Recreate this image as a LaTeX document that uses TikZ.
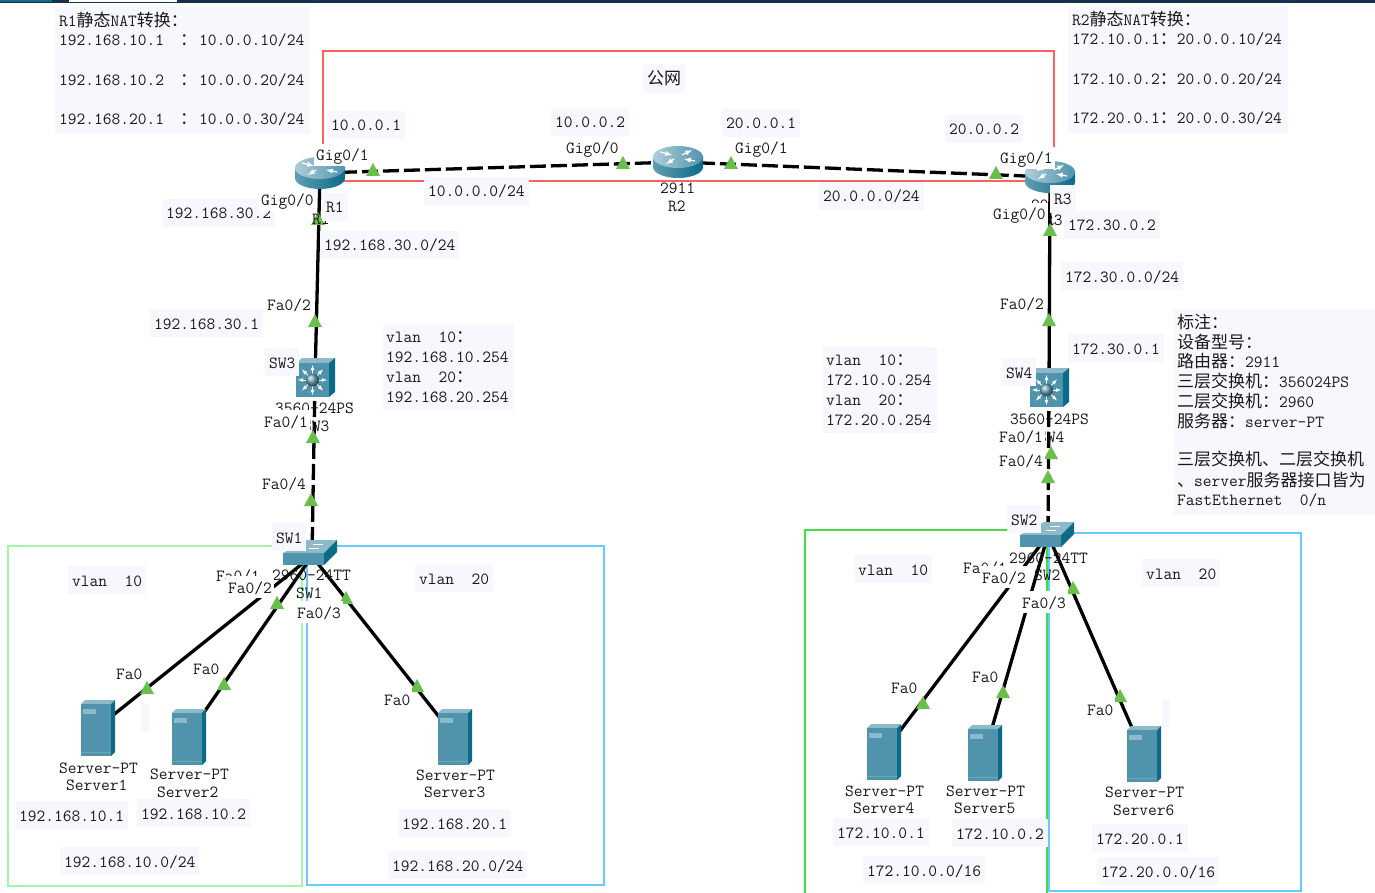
\documentclass[tikz,border=0pt]{standalone}
\usepackage{fontspec}
\newfontfamily\cjk{Noto Sans CJK SC}
\definecolor{lblbg}{HTML}{F7F8FE}
\definecolor{tri}{HTML}{6ABF4B}
\definecolor{cfront}{HTML}{4F93AC}
\definecolor{ctop}{HTML}{8DB9C9}
\definecolor{cside}{HTML}{0B6A85}
\definecolor{cred}{HTML}{FF6060}
\definecolor{cgl}{HTML}{A0F8A8}
\definecolor{cgr}{HTML}{44DD44}
\definecolor{cbl}{HTML}{66CCFF}
\definecolor{cbar}{HTML}{16304F}
\newcounter{nn}
\tikzset{
  txt/.style={font=\ttfamily\fontsize{17}{19}\selectfont,text=black!90,anchor=west,inner sep=0pt},
  lbl/.style={txt,fill=lblbg,inner xsep=4pt,inner ysep=6pt,xshift=-4pt,text depth=2pt,text height=14pt},
  port/.style={txt,fill=white,inner xsep=2pt,inner ysep=3pt,xshift=-2pt,text depth=2pt,text height=14pt},
  plain/.style={txt},
  link/.style={line width=3.3pt,black},
  dlink/.style={link,dash pattern=on 16pt off 5pt},
  routericon/.pic={
    \shade[left color=cfront!90,middle color=white!85!cfront,right color=cside] (0,5) ellipse [x radius=25,y radius=11];
    \shade[left color=cfront!90,middle color=white!85!cfront,right color=cside] (-25,-5) rectangle (25,5);
    \shade[left color=ctop!70!white,right color=cfront] (0,-5) ellipse [x radius=25,y radius=11];
    \draw[-latex,white,line width=1.3pt] (-18,-10)--(-6,-7);
    \draw[-latex,white,line width=1.3pt] (17,-1)--(6,-3);
    \draw[-latex,white,line width=1.3pt] (4,-7)--(14,-12);
    \draw[-latex,white,line width=1.3pt] (-4,-3)--(-12,2);
  },
  l3icon/.pic={
    \fill[ctop] (0,5)--(6,0)--(39,0)--(33,5)--cycle;
    \fill[cside] (33,5)--(39,0)--(39,34)--(33,39)--cycle;
    \fill[cfront] (0,5) rectangle (33,39);
    \draw[-latex,white,line width=.8pt] (16.5,16)--(16.5,7);
    \draw[-latex,white,line width=.8pt] (16.5,28)--(16.5,37);
    \draw[-latex,white,line width=.8pt] (10,22)--(2,22);
    \draw[-latex,white,line width=.8pt] (23,22)--(31,22);
    \draw[-latex,white,line width=.8pt] (12,17.5)--(6,11.5);
    \draw[-latex,white,line width=.8pt] (21,17.5)--(27,11.5);
    \draw[-latex,white,line width=.8pt] (12,26.5)--(6,32.5);
    \draw[-latex,white,line width=.8pt] (21,26.5)--(27,32.5);
    \shade[ball color=cfront!80] (16.5,22) circle (6.5);
  },
  l2icon/.pic={
    \fill[ctop] (0,13)--(24,0)--(54,0)--(41,13)--cycle;
    \fill[cside] (41,13)--(54,0)--(54,12)--(41,25)--cycle;
    \fill[cfront] (0,13) rectangle (41,25);
    \draw[white,line width=.7pt] (30,4)--(40,4) (26,8)--(36,8);
  },
  servericon/.pic={
    \fill[ctop] (0,4)--(4,0)--(34,0)--(30,4)--cycle;
    \fill[cside] (30,4)--(34,0)--(34,52)--(30,56)--cycle;
    \fill[cfront] (0,4) rectangle (30,56);
    \fill[ctop] (2,9) rectangle (15,14);
    \draw[cside!60,line width=.5pt] (0,52)--(30,52);
  },
}
\newcommand{\lb}[3]{\stepcounter{nn}\node[lbl] (t\thenn) at (#1,#2) {#3};}
\newcommand{\pt}[3]{\stepcounter{nn}\node[port] (t\thenn) at (#1,#2) {#3};}
\newcommand{\tx}[3]{\stepcounter{nn}\node[plain] (t\thenn) at (#1,#2) {#3};}
\newcommand{\tr}[2]{\fill[tri] (#1-7,#2+6)--(#1,#2-7)--(#1+7,#2+6)--cycle;}
\begin{document}
\begin{tikzpicture}[x=1pt,y=-1pt]
\useasboundingbox (0,0) rectangle (1375,893);
\fill[white] (0,0) rectangle (1375,893);
% top strip
\fill[cbar] (0,0) rectangle (1375,3);
\fill[cside] (0,0) rectangle (52,2);
\fill[white] (69,0) rectangle (177,2);
% coordinates
\coordinate (r1) at (320,173);
\coordinate (r2) at (678,162);
\coordinate (r3) at (1050,177);
\coordinate (sw3) at (315,380);
\coordinate (sw4) at (1049,390);
\coordinate (sw1) at (312,556);
\coordinate (sw2) at (1048,535);
\coordinate (s1) at (97,728);
\coordinate (s2) at (187,737);
\coordinate (s3) at (455,737);
\coordinate (s4) at (884,752);
\coordinate (s5) at (985,752);
\coordinate (s6) at (1143,753);
% areas
\draw[cred,line width=1.3pt] (323,145)--(323,51)--(1054,51)--(1054,181)--(323,181);
\draw[cgl,line width=1.3pt] (8,546) rectangle (302,886);
\draw[cbl,line width=1.3pt] (307,546) rectangle (604,885);
\draw[cgr,line width=1.3pt] (805,893)--(805,530)--(1047,530)--(1047,893);
\draw[cbl,line width=1.3pt] (1049,533) rectangle (1301,891);
% links
\draw[dlink] (r1)--(r2);
\draw[dlink] (r2)--(r3);
\draw[link] (r1)--(sw3);
\draw[dlink] (sw3)--(sw1);
\draw[link] (r3)--(sw4);
\draw[dlink] (sw4)--(sw2);
\draw[link] (sw1)--(s1);
\draw[link] (sw1)--(s2);
\draw[link] (sw1)--(s3);
\draw[link] (sw2)--(s4);
\draw[link] (sw2)--(s5);
\draw[link] (sw2)--(s6);
% link lights
\tr{373}{170}\tr{623}{163}\tr{731}{163}\tr{996}{173}
\tr{318}{219}\tr{315}{321}\tr{313}{437}\tr{311}{500}
\tr{147}{688}\tr{224}{684}\tr{277}{603}\tr{346}{598}\tr{417}{686}
\tr{1050}{230}\tr{1049}{320}\tr{1051}{453}\tr{1048}{477}
\tr{923}{703}\tr{1003}{692}\tr{1120}{696}\tr{1073}{588}
% icons
\pic at (r1) {routericon};
\pic at (r2) {routericon};
\pic at (r3) {routericon};
\pic at (296,358) {l3icon};
\pic at (1030,368) {l3icon};
\pic at (283,540) {l2icon};
\pic at (1020,522) {l2icon};
\pic at (81,700) {servericon};
\pic at (172,709) {servericon};
\pic at (438,709) {servericon};
\pic at (867,724) {servericon};
\pic at (968,725) {servericon};
\pic at (1127,726) {servericon};
% info boxes
\fill[lblbg] (55,7) rectangle (310,134);
\tx{59}{20}{R1{\cjk 静态}NAT{\cjk 转换：}}
\tx{59}{40}{192.168.10.1}\tx{180}{40}{{\cjk ：}}\tx{199}{40}{10.0.0.10/24}
\tx{59}{80}{192.168.10.2}\tx{180}{80}{{\cjk ：}}\tx{199}{80}{10.0.0.20/24}
\tx{59}{119}{192.168.20.1}\tx{180}{119}{{\cjk ：}}\tx{199}{119}{10.0.0.30/24}
\fill[lblbg] (1068,7) rectangle (1288,133);
\tx{1072}{19}{R2{\cjk 静态}NAT{\cjk 转换：}}
\tx{1072}{39}{172.10.0.1{\cjk ：}20.0.0.10/24}
\tx{1072}{79}{172.10.0.2{\cjk ：}20.0.0.20/24}
\tx{1072}{118}{172.20.0.1{\cjk ：}20.0.0.30/24}
\fill[lblbg] (383,324) rectangle (514,410);
\tx{386}{337}{vlan\ \ 10{\cjk ：}}\tx{386}{357}{192.168.10.254}\tx{386}{377}{vlan\ \ 20{\cjk ：}}\tx{386}{397}{192.168.20.254}
\fill[lblbg] (823,347) rectangle (937,433);
\tx{826}{360}{vlan\ \ 10{\cjk ：}}\tx{826}{380}{172.10.0.254}\tx{826}{400}{vlan\ \ 20{\cjk ：}}\tx{826}{420}{172.20.0.254}
\fill[lblbg] (1174,309) rectangle (1375,515);
\tx{1177}{322}{{\cjk 标注：}}
\tx{1177}{342}{{\cjk 设备型号：}}
\tx{1177}{361}{{\cjk 路由器：}2911}
\tx{1177}{381}{{\cjk 三层交换机：}356024PS}
\tx{1177}{401}{{\cjk 二层交换机：}2960}
\tx{1177}{421}{{\cjk 服务器：}server-PT}
\tx{1177}{459}{{\cjk 三层交换机、二层交换机}}
\tx{1177}{480}{{\cjk 、}server{\cjk 服务器接口皆为}}
\tx{1177}{500}{FastEthernet\ \ 0/n}
% empty label boxes
\fill[lblbg] (141,703) rectangle (150,731);
\fill[lblbg] (1162,699) rectangle (1170,727);
% network labels
\lb{331}{125}{10.0.0.1}
\lb{555}{122}{10.0.0.2}
\lb{726}{123}{20.0.0.1}
\lb{949}{129}{20.0.0.2}
\lb{647}{79}{{\cjk 公网}}
\lb{428}{191}{10.0.0.0/24}
\lb{823}{196}{20.0.0.0/24}
\lb{324}{245}{192.168.30.0/24}
\lb{166}{213}{192.168.30.2}
\lb{154}{323}{192.168.30.1}
\lb{1068}{225}{172.30.0.2}
\lb{1065}{276}{172.30.0.0/24}
\lb{1072}{348}{172.30.0.1}
\lb{72}{580}{vlan\ \ 10}
\lb{419}{578}{vlan\ \ 20}
\lb{858}{569}{vlan\ \ 10}
\lb{1146}{573}{vlan\ \ 20}
\lb{19}{815}{192.168.10.1}
\lb{141}{813}{192.168.10.2}
\lb{402}{823}{192.168.20.1}
\lb{64}{861}{192.168.10.0/24}
\lb{392}{865}{192.168.20.0/24}
\lb{837}{832}{172.10.0.1}
\lb{956}{833}{172.10.0.2}
\lb{1096}{838}{172.20.0.1}
\lb{867}{870}{172.10.0.0/16}
\lb{1101}{871}{172.20.0.0/16}
% device names
\tx{660}{188}{2911}\tx{668}{206}{R2}
\tx{312}{219}{R1}
\tx{1031}{205}{2911}
\tx{1045}{220}{R3}
\tx{275}{408}{3560-24PS}
\tx{303}{426}{SW3}
\tx{1010}{419}{3560-24PS}
\tx{1038}{437}{SW4}
\tx{272}{575}{2960-24TT}
\tx{296}{593}{SW1}
\tx{1009}{558}{2960-24TT}
\tx{1034}{575}{SW2}
\lb{326}{207}{R1}
\lb{1054}{199}{R3}
\lb{269}{362}{SW3}
\lb{1006}{372}{SW4}
\lb{276}{537}{SW1}
\lb{1011}{519}{SW2}
\tx{59}{768}{Server-PT}\tx{66}{785}{Server1}
\tx{150}{774}{Server-PT}\tx{157}{792}{Server2}
\tx{416}{775}{Server-PT}\tx{424}{792}{Server3}
\tx{845}{791}{Server-PT}\tx{853}{808}{Server4}
\tx{946}{791}{Server-PT}\tx{954}{808}{Server5}
\tx{1105}{792}{Server-PT}\tx{1113}{810}{Server6}
% port labels
\pt{316}{155}{Gig0/1}
\pt{566}{148}{Gig0/0}
\pt{735}{148}{Gig0/1}
\pt{1000}{158}{Gig0/1}
\pt{261}{200}{Gig0/0}
\pt{993}{214}{Gig0/0}
\pt{267}{304}{Fa0/2}
\pt{1000}{303}{Fa0/2}
\pt{264}{421}{Fa0/1}
\pt{262}{483}{Fa0/4}
\pt{999}{436}{Fa0/1}
\pt{999}{460}{Fa0/4}
\pt{216}{575}{Fa0/1}
\pt{228}{587}{Fa0/2}
\pt{297}{612}{Fa0/3}
\pt{963}{567}{Fa0/1}
\pt{982}{577}{Fa0/2}
\pt{1022}{602}{Fa0/3}
\pt{116}{673}{Fa0}
\pt{193}{668}{Fa0}
\pt{384}{699}{Fa0}
\pt{891}{687}{Fa0}
\pt{972}{676}{Fa0}
\pt{1087}{709}{Fa0}
\end{tikzpicture}
\end{document}
